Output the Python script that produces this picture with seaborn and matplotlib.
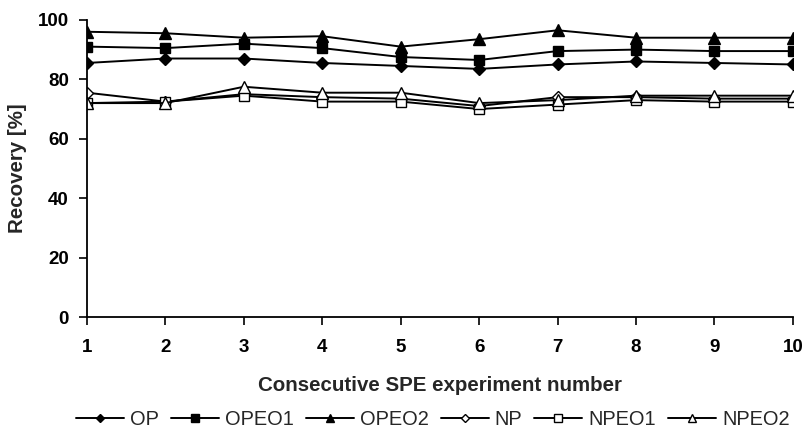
import pandas as pd
import matplotlib
matplotlib.use("Agg")
import matplotlib.pyplot as plt
import seaborn as sns

# Recovery values
experiment = [1, 2, 3, 4, 5, 6, 7, 8, 9, 10]
op = [85.5, 87, 87, 85.5, 84.5, 83.5, 85, 86, 85.5, 85]
opeo1 = [91, 90.5, 92, 90.5, 87.5, 86.5, 89.5, 90, 89.5, 89.5]
opeo2 = [96, 95.5, 94, 94.5, 91, 93.5, 96.5, 94, 94, 94]
np_ = [75.5, 72.5, 75, 74, 73.5, 71, 74, 74, 73.5, 73.5]
npeo1 = [72, 72.5, 74.5, 72.5, 72.5, 70, 71.5, 73, 72.5, 72.5]
npeo2 = [72, 72, 77.5, 75.5, 75.5, 72, 73, 74.5, 74.5, 74.5]

series = {'OP': op, 'OPEO1': opeo1, 'OPEO2': opeo2,
          'NP': np_, 'NPEO1': npeo1, 'NPEO2': npeo2}
markers = {'OP': 'D', 'OPEO1': 's', 'OPEO2': '^', 'NP': 'D', 'NPEO1': 's', 'NPEO2': '^'}
filled = {'OP': True, 'OPEO1': True, 'OPEO2': True, 'NP': False, 'NPEO1': False, 'NPEO2': False}
sizes = {'D': 6, 's': 7, '^': 8}

sns.set_style("ticks")
plt.rcParams['font.family'] = ['Liberation Sans', 'DejaVu Sans']

fig = plt.figure(figsize=(8.05, 4.32), dpi=100)
ax = fig.add_axes([0.108, 0.266, 0.877, 0.688])

for name, vals in series.items():
    df = pd.DataFrame({'Experiment': experiment, 'Recovery': vals})
    m = markers[name]
    sns.lineplot(data=df, x='Experiment', y='Recovery', ax=ax, color='black',
                 linewidth=1.4, marker=m, markersize=sizes[m],
                 markerfacecolor='black' if filled[name] else 'white',
                 markeredgecolor='black', markeredgewidth=1.0, label=name)

ax.set_xlim(1, 10)
ax.set_ylim(0, 100)
ax.set_xticks(experiment)
ax.set_yticks([0, 20, 40, 60, 80, 100])
ax.tick_params(axis='both', labelsize=13.5, colors='black', width=1.2, length=6)
ax.tick_params(axis='x', pad=10)
ax.tick_params(axis='y', pad=7)
for lbl in ax.get_xticklabels() + ax.get_yticklabels():
    lbl.set_fontweight('bold')
for s in ['top', 'right']:
    ax.spines[s].set_visible(False)
for s in ['left', 'bottom']:
    ax.spines[s].set_linewidth(1.3)
    ax.spines[s].set_color('black')

ax.set_xlabel('Consecutive SPE experiment number', fontsize=14.8, fontweight='bold', labelpad=14)
ax.set_ylabel('Recovery [%]', fontsize=14.8, fontweight='bold', labelpad=8)

ax.legend(loc='center', bbox_to_anchor=(0.49, -0.345), ncol=6, frameon=False,
          fontsize=14.4, handlelength=2.4, handletextpad=0.3, columnspacing=0.6,
          markerscale=0.75)

fig.savefig('out.png', dpi=100)
